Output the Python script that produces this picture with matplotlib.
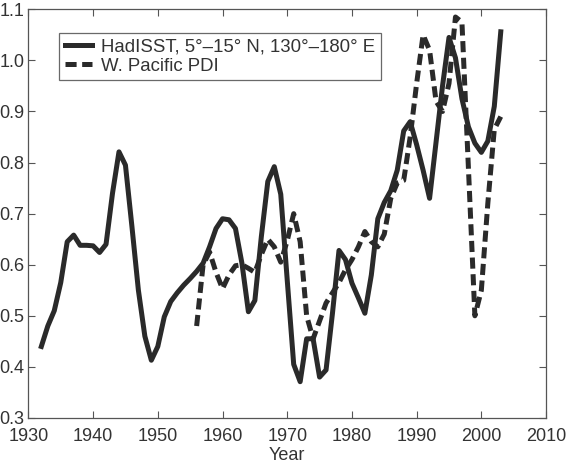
import matplotlib
matplotlib.use("Agg")
import matplotlib.pyplot as plt

plt.rcParams["font.family"] = ["Liberation Sans", "DejaVu Sans"]
plt.rcParams["lines.scale_dashes"] = False

# HadISST, 5-15N, 130-180E (normalised)
sst_years = list(range(1932, 2004))
sst_vals = [
    0.44, 0.48, 0.51, 0.565, 0.645, 0.658, 0.638, 0.638, 0.637, 0.624,
    0.64, 0.74, 0.821, 0.795, 0.675, 0.55, 0.46, 0.413, 0.44, 0.498,
    0.528, 0.545, 0.56, 0.573, 0.587, 0.603, 0.635, 0.671, 0.69, 0.688,
    0.671, 0.603, 0.508, 0.53, 0.655, 0.763, 0.792, 0.738, 0.57, 0.405,
    0.371, 0.455, 0.455, 0.38, 0.394, 0.506, 0.628, 0.61, 0.564, 0.535,
    0.505, 0.58, 0.69, 0.722, 0.745, 0.785, 0.862, 0.88, 0.835, 0.785,
    0.73, 0.84, 0.95, 1.045, 1.005, 0.925, 0.87, 0.838, 0.82, 0.842,
    0.91, 1.056,
]

# W. Pacific PDI
pdi_years = list(range(1956, 2004))
pdi_vals = [
    0.48, 0.60, 0.625, 0.585, 0.553, 0.58, 0.598, 0.60, 0.593, 0.585,
    0.62, 0.65, 0.635, 0.605, 0.647, 0.70, 0.645, 0.50, 0.455, 0.49,
    0.525, 0.545, 0.565, 0.59, 0.61, 0.635, 0.665, 0.645, 0.635, 0.66,
    0.73, 0.76, 0.765, 0.85, 0.955, 1.05, 1.02, 0.92, 0.90, 0.955,
    1.085, 1.075, 0.79, 0.50, 0.55, 0.72, 0.865, 0.89,
]

line_col = "#2a2a2a"
text_col = "#333333"

fig = plt.figure(figsize=(5.7, 4.67), dpi=100)
ax = fig.add_axes([0.0498, 0.105, 0.9082, 0.875])

ax.plot(sst_years, sst_vals, color=line_col, lw=3.6,
        label="HadISST, 5°\u201315° N, 130°\u2013180° E")
ax.plot(pdi_years, pdi_vals, color=line_col, lw=3.6, dashes=(8, 4),
        label="W. Pacific PDI")

ax.set_xlim(1930, 2010)
ax.set_ylim(0.3, 1.1)
ax.set_xticks(range(1930, 2011, 10))
ax.set_yticks([0.3, 0.4, 0.5, 0.6, 0.7, 0.8, 0.9, 1.0, 1.1])
ax.set_yticklabels(["0.3", "0.4", "0.5", "0.6", "0.7", "0.8", "0.9", "1.0", "1.1"])
ax.tick_params(direction="in", top=True, right=True, length=5, width=0.8,
               labelsize=13, labelcolor=text_col, color="#555555")
ax.tick_params(axis="x", pad=7.5)
ax.tick_params(axis="y", pad=3)
for s in ax.spines.values():
    s.set_color("#555555")
    s.set_linewidth(0.9)

ax.set_xlabel("Year", fontsize=13, color=text_col, labelpad=1)

leg = ax.legend(loc="upper left", bbox_to_anchor=(0.059, 0.942), borderaxespad=0,
                fontsize=13.4, frameon=True, fancybox=False, handlelength=1.5,
                handletextpad=0.45, labelspacing=0.1, borderpad=0.3)
leg.get_frame().set_edgecolor("#444444")
leg.get_frame().set_linewidth(0.9)
for t in leg.get_texts():
    t.set_color(text_col)

fig.savefig("out.png", dpi=100)
